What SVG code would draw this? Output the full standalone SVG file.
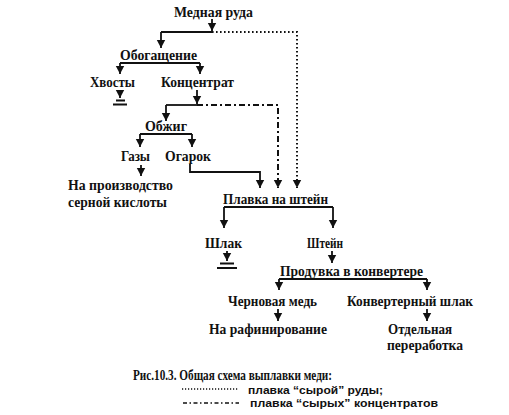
<svg xmlns="http://www.w3.org/2000/svg" width="509" height="415" viewBox="0 0 509 415">
<defs>
<style>
text{font-family:"Liberation Serif","Times New Roman",serif;font-weight:bold;font-size:14px;fill:#111}
.cap{font-size:14px}
.leg{font-family:"Liberation Sans",Arial,sans-serif;font-size:11.5px}
.ln{fill:none;stroke:#111;stroke-width:1.8}
.dot{fill:none;stroke:#111;stroke-width:2;stroke-dasharray:1.6 2.4}
.dd{fill:none;stroke:#111;stroke-width:2;stroke-dasharray:6 3 2 3}
</style>
<marker id="ah" markerUnits="userSpaceOnUse" markerWidth="10" markerHeight="10" viewBox="0 0 10 10" refX="8" refY="5" orient="auto">
<path d="M0,0.8 L8,5 L0,9.2 Z" fill="#111"/>
</marker>
</defs>
<rect width="509" height="415" fill="#fff"/>

<g id="connectors">
<path class="ln" d="M212,19 V31" marker-end="url(#ah)"/>
<path class="ln" d="M161,32 H212"/>
<path class="dot" d="M212,32 H297 V188" marker-end="url(#ah)"/>
<path class="ln" d="M161,32 V48" marker-end="url(#ah)"/>
<path class="ln" d="M120,63 H200"/>
<path class="ln" d="M120,63 V74" marker-end="url(#ah)"/>
<path class="ln" d="M200,63 V74" marker-end="url(#ah)"/>
<path class="ln" d="M120,90 V98" marker-end="url(#ah)"/>
<path class="ln" d="M116,100.5 H125 M113,104.5 H127"/>
<path class="ln" d="M197,90 V104" marker-end="url(#ah)"/>
<path class="ln" d="M166,105 H197"/>
<path class="dd" d="M197,105 H278 V188" marker-end="url(#ah)"/>
<path class="ln" d="M166,105 V121" marker-end="url(#ah)"/>
<path class="ln" d="M140,134 H192"/>
<path class="ln" d="M140,134 V147" marker-end="url(#ah)"/>
<path class="ln" d="M192,134 V147" marker-end="url(#ah)"/>
<path class="ln" d="M141,165 V176" marker-end="url(#ah)"/>
<path class="ln" d="M190,164 V172 H260 V188" marker-end="url(#ah)"/>
<path class="ln" d="M224,207 H333"/>
<path class="ln" d="M224,207 V228" marker-end="url(#ah)"/>
<path class="ln" d="M333,207 V228" marker-end="url(#ah)"/>
<path class="ln" d="M227,251 V261" marker-end="url(#ah)"/>
<path class="ln" d="M220,263.5 H234 M217,268 H237"/>
<path class="ln" d="M332,251 V263" marker-end="url(#ah)"/>
<path class="ln" d="M279,279 H427"/>
<path class="ln" d="M279,279 V290" marker-end="url(#ah)"/>
<path class="ln" d="M427,279 V290" marker-end="url(#ah)"/>
<path class="ln" d="M278,309 V321" marker-end="url(#ah)"/>
<path class="ln" d="M427,309 V321" marker-end="url(#ah)"/>
</g>

<g id="n_ruda"><text x="174" y="17" textLength="79" lengthAdjust="spacingAndGlyphs">Медная руда</text></g>
<g id="n_obog"><text x="120" y="60" textLength="77" lengthAdjust="spacingAndGlyphs">Обогащение</text></g>
<g id="n_hvosty"><text x="90" y="87" textLength="45" lengthAdjust="spacingAndGlyphs">Хвосты</text></g>
<g id="n_konc"><text x="161" y="87" textLength="73" lengthAdjust="spacingAndGlyphs">Концентрат</text></g>
<g id="n_obzhig"><text x="145" y="131" textLength="42" lengthAdjust="spacingAndGlyphs">Обжиг</text></g>
<g id="n_gazy"><text x="121" y="161" textLength="29" lengthAdjust="spacingAndGlyphs">Газы</text></g>
<g id="n_ogarok"><text x="165" y="161" textLength="46" lengthAdjust="spacingAndGlyphs">Огарок</text></g>
<g id="n_sern"><text x="68" y="189.5" textLength="105" lengthAdjust="spacingAndGlyphs">На производство</text><text x="68" y="206.5" textLength="99" lengthAdjust="spacingAndGlyphs">серной кислоты</text></g>
<g id="n_plavka"><text x="223" y="203.5" textLength="105" lengthAdjust="spacingAndGlyphs">Плавка на штейн</text></g>
<g id="n_shlak"><text x="205" y="248" textLength="37" lengthAdjust="spacingAndGlyphs">Шлак</text></g>
<g id="n_shtein"><text x="307" y="248" textLength="36" lengthAdjust="spacingAndGlyphs">Штейн</text></g>
<g id="n_produvka"><text x="280" y="276" textLength="143" lengthAdjust="spacingAndGlyphs">Продувка в конвертере</text></g>
<g id="n_chern"><text x="228" y="306" textLength="89" lengthAdjust="spacingAndGlyphs">Черновая медь</text></g>
<g id="n_konvshlak"><text x="347" y="306" textLength="126" lengthAdjust="spacingAndGlyphs">Конвертерный шлак</text></g>
<g id="n_rafin"><text x="209" y="334" textLength="118" lengthAdjust="spacingAndGlyphs">На рафинирование</text></g>
<g id="n_otdel"><text x="388" y="334" textLength="64" lengthAdjust="spacingAndGlyphs">Отдельная</text><text x="387" y="350" textLength="76" lengthAdjust="spacingAndGlyphs">переработка</text></g>

<g id="caption">
<text class="cap" x="133" y="380" textLength="199" lengthAdjust="spacingAndGlyphs">Рис.10.3. Общая схема выплавки меди:</text>
<path class="dot" d="M182,389 H239" style="stroke-width:1.5;stroke-dasharray:1.2 1.8"/>
<text class="leg" x="248" y="394" textLength="135" lengthAdjust="spacingAndGlyphs">плавка “сырой” руды;</text>
<path class="dd" d="M183,403 H239" style="stroke-width:1.5;stroke-dasharray:4 2.5 1.5 2.5"/>
<text class="leg" x="250" y="406.5" textLength="188" lengthAdjust="spacingAndGlyphs">плавка “сырых” концентратов</text>
</g>
</svg>
